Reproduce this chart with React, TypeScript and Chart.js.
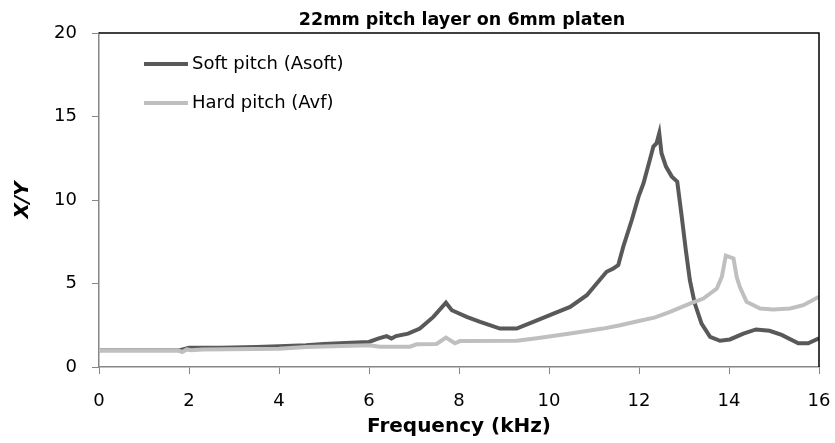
import React, { useEffect, useRef } from "react";
import { Chart, registerables } from "chart.js";

Chart.register(...registerables);

const chartTitle = "22mm pitch layer on 6mm platen";
const xAxisTitle = "Frequency (kHz)";
const yAxisTitle = "X/Y";
const softLabel = "Soft pitch (Asoft)";
const hardLabel = "Hard pitch (Avf)";

const softX = [0, 1.0, 1.8, 2.0, 2.7, 3.5, 4.0, 4.6, 5.0, 5.6, 6.0, 6.2, 6.39, 6.5, 6.6, 6.87, 7.13, 7.43, 7.71, 7.84, 8.17, 8.47, 8.91, 9.28, 9.65, 10.1, 10.47, 10.84, 11.06, 11.28, 11.43, 11.54, 11.65, 11.84, 11.99, 12.1, 12.24, 12.32, 12.39, 12.45, 12.5, 12.6, 12.73, 12.85, 12.95, 13.04, 13.13, 13.24, 13.39, 13.58, 13.8, 14.02, 14.32, 14.6, 14.9, 15.17, 15.54, 15.76, 16.0];
const softY = [1.0, 1.0, 1.0, 1.15, 1.15, 1.2, 1.25, 1.3, 1.38, 1.45, 1.5, 1.7, 1.85, 1.7, 1.85, 2.0, 2.3, 3.0, 3.85, 3.4, 3.0, 2.7, 2.3, 2.3, 2.7, 3.2, 3.6, 4.3, 5.0, 5.7, 5.9, 6.1, 7.2, 8.8, 10.2, 11.0, 12.4, 13.2, 13.4, 14.0, 12.8, 12.0, 11.4, 11.1, 9.0, 7.0, 5.2, 3.8, 2.6, 1.8, 1.57, 1.65, 2.0, 2.25, 2.17, 1.92, 1.42, 1.42, 1.72];

const hardX = [0, 1.75, 1.85, 1.95, 2.05, 2.3, 4.0, 4.6, 6.0, 6.24, 6.91, 7.06, 7.5, 7.71, 7.91, 8.02, 9.28, 9.73, 10.47, 11.2, 11.58, 12.02, 12.36, 12.69, 13.13, 13.43, 13.73, 13.84, 13.93, 14.1, 14.17, 14.24, 14.39, 14.69, 14.98, 15.36, 15.65, 16.0];
const hardY = [1.0, 1.0, 0.9, 1.05, 1.0, 1.05, 1.1, 1.2, 1.3, 1.22, 1.22, 1.36, 1.38, 1.76, 1.42, 1.55, 1.57, 1.72, 2.0, 2.3, 2.5, 2.77, 2.97, 3.3, 3.8, 4.1, 4.7, 5.4, 6.67, 6.5, 5.4, 4.8, 3.9, 3.5, 3.45, 3.5, 3.7, 4.2];

const softColor = "#595959";
const hardColor = "#BFBFBF";
const axisColor = "#868686";
const FONT = '"DejaVu Sans", sans-serif';

const decorPlugin = {
  id: "decor",
  afterDraw(chart: any) {
    const { ctx, chartArea } = chart;
    const { left, right, top, bottom } = chartArea;
    ctx.save();
    ctx.strokeStyle = "#000000";
    ctx.lineWidth = 1.5;
    ctx.beginPath();
    ctx.moveTo(left, top);
    ctx.lineTo(right, top);
    ctx.lineTo(right, bottom);
    ctx.stroke();
    ctx.fillStyle = "#000";
    ctx.font = "bold 17.5px " + FONT;
    ctx.textAlign = "center";
    ctx.textBaseline = "middle";
    ctx.fillText(chartTitle, (left + right) / 2 + 3, 20.5);
    const items = [
      { label: softLabel, color: softColor, y: 64 },
      { label: hardLabel, color: hardColor, y: 103 },
    ];
    ctx.font = "18px " + FONT;
    ctx.textAlign = "left";
    for (const it of items) {
      ctx.strokeStyle = it.color;
      ctx.lineWidth = 4;
      ctx.beginPath();
      ctx.moveTo(144, it.y);
      ctx.lineTo(188, it.y);
      ctx.stroke();
      ctx.fillStyle = "#000";
      ctx.fillText(it.label, 192, it.y);
    }
    ctx.restore();
  },
};

export default function App() {
  const ref = useRef<HTMLCanvasElement>(null);
  useEffect(() => {
    if (!ref.current) return;
    const chart = new Chart(ref.current, {
      type: "line",
      data: {
        datasets: [
          {
            label: softLabel,
            data: softX.map((x, i) => ({ x, y: softY[i] })),
            borderColor: softColor,
            borderWidth: 4,
            pointRadius: 0,
            tension: 0,
            order: 1,
          },
          {
            label: hardLabel,
            data: hardX.map((x, i) => ({ x, y: hardY[i] })),
            borderColor: hardColor,
            borderWidth: 4,
            pointRadius: 0,
            tension: 0,
            order: 0,
          },
        ],
      },
      options: {
        animation: false,
        responsive: false,
        devicePixelRatio: 1,
        layout: { padding: { top: 33, right: 0, bottom: 0, left: 0 } },
        plugins: {
          legend: { display: false },
          title: { display: false },
          tooltip: { enabled: false },
        },
        scales: {
          x: {
            type: "linear",
            min: 0,
            max: 16,
            afterFit: (s: any) => {
              s.height = 76;
              s.paddingRight = 16;
              s.paddingLeft = 0;
            },
            ticks: {
              stepSize: 2,
              padding: 17,
              color: "#000",
              font: { family: FONT, size: 18 },
              maxRotation: 0,
            },
            grid: {
              drawOnChartArea: false,
              drawTicks: true,
              tickLength: 7,
              color: axisColor,
            },
            border: { display: true, color: axisColor, width: 1.5 },
            title: {
              display: true,
              text: xAxisTitle,
              color: "#000",
              font: { family: FONT, size: 20, weight: "bold" },
              padding: { top: 0, bottom: 4 },
            },
          },
          y: {
            type: "linear",
            min: 0,
            max: 20,
            afterFit: (s: any) => {
              s.width = 99;
            },
            ticks: {
              stepSize: 5,
              padding: 15,
              color: "#000",
              font: { family: FONT, size: 18 },
            },
            grid: {
              drawOnChartArea: false,
              drawTicks: true,
              tickLength: 7,
              color: axisColor,
            },
            border: { display: true, color: axisColor, width: 1.5 },
            title: {
              display: true,
              text: yAxisTitle,
              color: "#000",
              font: { family: FONT, size: 20, weight: "bold", style: "italic" },
              padding: { top: 11, bottom: 0 },
            },
          },
        },
      },
      plugins: [decorPlugin],
    } as any);
    return () => chart.destroy();
  }, []);
  return (
    <div style={{ position: "absolute", left: 0, top: 0, width: 835, height: 443 }}>
      <canvas ref={ref} width={835} height={443} />
    </div>
  );
}
